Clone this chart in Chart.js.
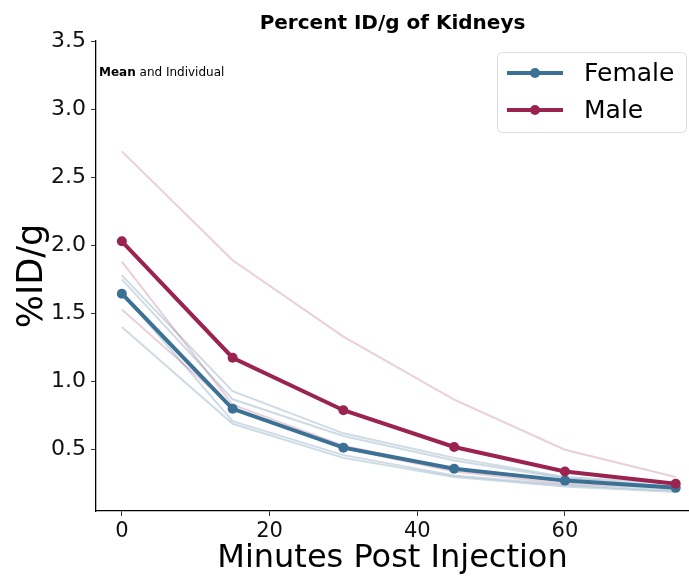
<!DOCTYPE html>
<html>
<head>
<meta charset="utf-8">
<script src="https://cdn.jsdelivr.net/npm/chart.js@4.4.1/dist/chart.umd.min.js"></script>
<style>
  html, body { margin: 0; padding: 0; background: #fff; }
  #wrap { width: 689px; height: 577px; }
</style>
</head>
<body>
<div id="wrap"><canvas id="c" width="689" height="577"></canvas></div>
<script>
// ---- data ----
const minutes = [0, 15, 30, 45, 60, 75];
const xTicks = [0, 20, 40, 60];
const yTicks = [0.5, 1.0, 1.5, 2.0, 2.5, 3.0, 3.5];

const femaleMean = [1.645, 0.80, 0.515, 0.36, 0.273, 0.22];
const maleMean   = [2.03, 1.175, 0.79, 0.52, 0.34, 0.25];

const female1 = [1.78, 0.93, 0.62, 0.44, 0.30, 0.25];
const female2 = [1.75, 0.87, 0.60, 0.42, 0.29, 0.23];
const female3 = [1.65, 0.71, 0.46, 0.31, 0.24, 0.20];
const female4 = [1.40, 0.69, 0.44, 0.30, 0.23, 0.19];

const male1 = [2.69, 1.89, 1.33, 0.867, 0.50, 0.30];
const male2 = [1.88, 0.83, 0.53, 0.36, 0.27, 0.23];
const male3 = [1.53, 0.81, 0.51, 0.34, 0.25, 0.22];

const titleText = 'Percent ID/g of Kidneys';
const xTitle = 'Minutes Post Injection';
const yTitle = '%ID/g';
const noteBold = 'Mean';
const noteRest = ' and Individual';

// ---- styles ----
const FEMALE = 'rgb(60,113,150)';
const MALE = 'rgb(155,35,80)';
const FEMALE_LIGHT = 'rgba(60,113,150,0.25)';
const MALE_LIGHT = 'rgba(155,35,80,0.22)';
const FONT = "'DejaVu Sans', sans-serif";

const pts = arr => arr.map((v, i) => ({ x: minutes[i], y: v }));

function indiv(arr, color) {
  return { data: pts(arr), borderColor: color, borderWidth: 2, pointRadius: 0,
           fill: false, tension: 0, order: 2, isIndividual: true };
}

const datasets = [
  { label: 'Female', data: pts(femaleMean), borderColor: FEMALE, backgroundColor: FEMALE,
    borderWidth: 4, pointRadius: 5, pointBorderWidth: 0, pointBackgroundColor: FEMALE, order: 1 },
  { label: 'Male', data: pts(maleMean), borderColor: MALE, backgroundColor: MALE,
    borderWidth: 4, pointRadius: 5, pointBorderWidth: 0, pointBackgroundColor: MALE, order: 0 },
  indiv(female1, FEMALE_LIGHT), indiv(female2, FEMALE_LIGHT),
  indiv(female3, FEMALE_LIGHT), indiv(female4, FEMALE_LIGHT),
  indiv(male1, MALE_LIGHT), indiv(male2, MALE_LIGHT), indiv(male3, MALE_LIGHT)
];

const overlay = {
  id: 'overlay',
  afterDraw(chart) {
    const ctx = chart.ctx;
    const area = chart.chartArea;
    ctx.save();
    // title, centred over the plot area
    ctx.fillStyle = '#000';
    ctx.textAlign = 'center';
    ctx.textBaseline = 'middle';
    ctx.font = 'bold 20px ' + FONT;
    ctx.fillText(titleText, (area.left + area.right) / 2, 24);

    // note text
    ctx.textBaseline = 'alphabetic';
    ctx.textAlign = 'left';
    ctx.font = 'bold 12px ' + FONT;
    const nx = area.left + 3, ny = 76;
    ctx.fillText(noteBold, nx, ny);
    const w = ctx.measureText(noteBold).width;
    ctx.font = '12px ' + FONT;
    ctx.fillText(noteRest, nx + w, ny);

    // legend
    const bx = 497.5, by = 52.5, bw = 189, bh = 80, r = 5;
    ctx.beginPath();
    ctx.moveTo(bx + r, by);
    ctx.arcTo(bx + bw, by, bx + bw, by + bh, r);
    ctx.arcTo(bx + bw, by + bh, bx, by + bh, r);
    ctx.arcTo(bx, by + bh, bx, by, r);
    ctx.arcTo(bx, by, bx + bw, by, r);
    ctx.closePath();
    ctx.fillStyle = 'rgba(255,255,255,0.85)';
    ctx.fill();
    ctx.strokeStyle = '#dcdcdc';
    ctx.lineWidth = 1;
    ctx.stroke();

    const items = chart.data.datasets.filter(d => !d.isIndividual);
    const rows = [73, 110];
    items.forEach((d, i) => {
      const y = rows[i];
      ctx.strokeStyle = d.borderColor;
      ctx.lineWidth = 4;
      ctx.beginPath();
      ctx.moveTo(507, y);
      ctx.lineTo(563, y);
      ctx.stroke();
      ctx.fillStyle = d.borderColor;
      ctx.beginPath();
      ctx.arc(535, y, 5, 0, Math.PI * 2);
      ctx.fill();
      ctx.fillStyle = '#000';
      ctx.font = '25px ' + FONT;
      ctx.textBaseline = 'middle';
      ctx.fillText(d.label, 584, y + 1);
    });
    ctx.restore();
  }
};

new Chart(document.getElementById('c'), {
  type: 'line',
  data: { datasets },
  plugins: [overlay],
  options: {
    responsive: false,
    animation: false,
    layout: { autoPadding: false, padding: { left: 0, right: 0, top: 41, bottom: 0 } },
    plugins: {
      legend: { display: false },
      tooltip: { enabled: false },
      title: { display: false }
    },
    scales: {
      x: {
        type: 'linear', min: -3.5, max: 76.8,
        afterFit(s) { s.height = 66; },
        afterBuildTicks(s) { s.ticks = xTicks.map(v => ({ value: v })); },
        grid: { display: true, drawOnChartArea: false, drawTicks: true, tickLength: 5, tickColor: '#333', tickWidth: 1 },
        border: { display: true, color: '#000', width: 1.3 },
        ticks: { color: '#111', font: { family: FONT, size: 21 }, padding: 3, maxRotation: 0,
                 callback: v => String(v) },
        title: { display: true, text: xTitle, color: '#000',
                 font: { family: FONT, size: 32, lineHeight: 1 }, padding: { top: 0, bottom: 2 } }
      },
      y: {
        type: 'linear', min: 0.05, max: 3.5,
        afterFit(s) { s.width = 96; },
        afterBuildTicks(s) { s.ticks = yTicks.map(v => ({ value: v })); },
        grid: { display: true, drawOnChartArea: false, drawTicks: true, tickLength: 5, tickColor: '#333', tickWidth: 1 },
        border: { display: true, color: '#000', width: 1.3 },
        ticks: { color: '#111', font: { family: FONT, size: 22 }, padding: 5,
                 callback: v => v.toFixed(1) },
        title: { display: true, text: yTitle, color: '#000',
                 font: { family: FONT, size: 35, lineHeight: 1 }, padding: { top: 15, bottom: 0 } }
      }
    }
  }
});
</script>
</body>
</html>
